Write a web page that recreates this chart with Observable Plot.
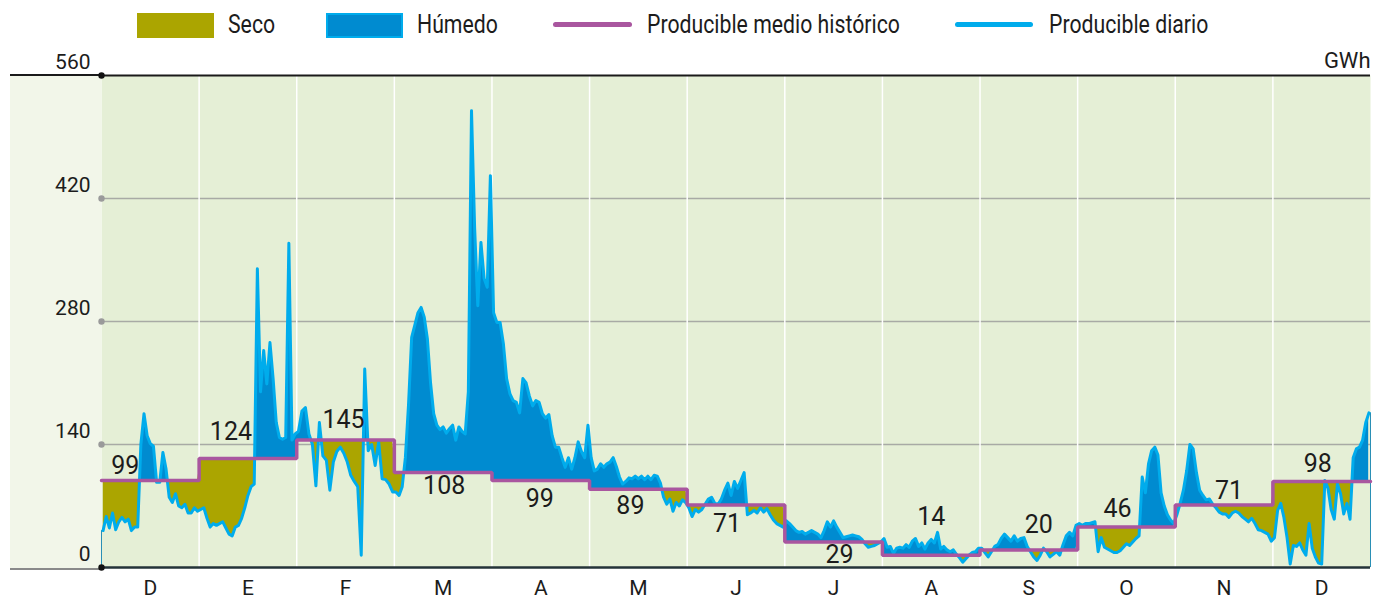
<!DOCTYPE html>
<html>
<head>
<meta charset="utf-8">
<script src="https://cdn.jsdelivr.net/npm/d3@7"></script>
<script src="https://cdn.jsdelivr.net/npm/@observablehq/plot@0.6"></script>
<style>
  body { margin: 0; background: #ffffff; }
  #wrap { position: relative; width: 1373px; height: 599px; overflow: hidden;
          font-family: Roboto, "Liberation Sans", sans-serif; color: #1c1c1c; }
  #leftpanel { position: absolute; left: 10px; top: 74px; width: 91px; height: 492px;
               background: #f2f6e9; border-top: 2px solid #1a1a1a; border-bottom: 2px solid #8a8a8a; }
  .lg { position: absolute; }
  .lgtext { position: absolute; top: 10px; font-size: 25px; line-height: 30px; white-space: nowrap;
            transform: scaleX(0.85); transform-origin: left center; }
  #chart { position: absolute; left: 0; top: 46px; }
</style>
</head>
<body>
<div id="wrap">
  <div id="leftpanel"></div>
  <div class="lg" style="left:137px; top:13px; width:77px; height:25px; background:#aba500;"></div>
  <div class="lgtext" style="left:228px;">Seco</div>
  <div class="lg" style="left:326px; top:13px; width:77px; height:25px; background:#008bd0; border:2px solid #00acec; box-sizing:border-box;"></div>
  <div class="lgtext" style="left:417px;">Húmedo</div>
  <div class="lg" style="left:553px; top:22px; width:79px; height:5px; border-radius:3px; background:#a9569f;"></div>
  <div class="lgtext" style="left:647px;">Producible medio histórico</div>
  <div class="lg" style="left:955px; top:22px; width:78px; height:5px; border-radius:3px; background:#00acec;"></div>
  <div class="lgtext" style="left:1049px;">Producible diario</div>
  <div id="chart"></div>
</div>
<script>
// ---- Data ----
const months = ["D","E","F","M","A","M","J","J","A","S","O","N","D"];
const historic = [99, 124, 145, 108, 99, 89, 71, 29, 14, 20, 46, 71, 98];
const yTicks = [0, 140, 280, 420, 560];

// Producible diario (GWh), one value per day, by month
const dic0 = [42, 58, 45, 62, 43, 52, 57, 52, 55, 42, 46, 46, 140, 175, 150, 141, 138, 97, 97, 131, 112, 80, 74, 84, 70, 68, 72, 62, 62, 68, 64];
const ene  = [66, 68, 56, 46, 50, 48, 50, 52, 45, 38, 36, 46, 48, 56, 68, 82, 92, 95, 340, 200, 247, 209, 256, 215, 165, 148, 146, 148, 369, 145, 152];
const feb  = [155, 178, 182, 152, 140, 93, 165, 127, 122, 88, 120, 132, 137, 130, 120, 105, 98, 92, 14, 226, 133, 140, 116, 143, 101, 100, 95, 86];
const mar  = [86, 82, 92, 125, 185, 262, 276, 290, 296, 285, 260, 210, 175, 162, 157, 160, 153, 158, 162, 145, 160, 155, 152, 200, 520, 386, 298, 370, 329, 319, 446];
const abr  = [290, 279, 279, 255, 215, 198, 190, 188, 176, 215, 210, 195, 184, 190, 188, 175, 170, 174, 150, 137, 137, 125, 114, 125, 112, 125, 143, 132, 125, 162];
const may  = [125, 110, 112, 118, 114, 118, 120, 125, 115, 103, 95, 98, 102, 101, 104, 101, 104, 100, 104, 100, 105, 104, 96, 80, 72, 78, 64, 74, 70, 77, 74];
const jun  = [68, 58, 66, 63, 66, 72, 78, 80, 73, 72, 78, 88, 96, 82, 98, 90, 99, 108, 60, 62, 65, 62, 68, 63, 67, 60, 54, 50, 48, 46];
const jul  = [53, 50, 46, 42, 40, 41, 38, 40, 42, 40, 38, 34, 42, 52, 46, 53, 46, 40, 34, 35, 36, 37, 36, 35, 32, 27, 23, 24, 25, 27, 29];
const ago  = [33, 23, 24, 16, 22, 23, 22, 26, 23, 30, 33, 24, 28, 21, 28, 32, 28, 40, 21, 24, 20, 18, 20, 15, 11, 6, 10, 14, 17, 18, 22];
const sep  = [22, 17, 12, 18, 24, 26, 33, 38, 34, 30, 36, 30, 33, 34, 24, 18, 12, 8, 14, 22, 18, 12, 15, 18, 14, 26, 36, 40, 36, 48];
const oct  = [50, 48, 50, 50, 51, 52, 18, 34, 23, 21, 19, 17, 17, 19, 23, 27, 25, 29, 33, 36, 103, 85, 118, 133, 137, 128, 85, 70, 60, 54, 50];
const nov  = [60, 73, 88, 110, 140, 135, 108, 88, 82, 77, 78, 72, 68, 63, 61, 61, 57, 62, 64, 62, 58, 55, 52, 56, 50, 43, 42, 40, 38, 30];
const dic1 = [34, 65, 73, 57, 34, 4, 25, 24, 28, 20, 14, 50, 22, 12, 5, 4, 99, 90, 66, 55, 95, 84, 61, 73, 55, 125, 135, 137, 145, 165, 176];

// ---- Layout (label offsets in px: [dx, dy]) ----
const labelOffsets = [[-25,-15],[-17,-27],[-2,-20],[1,13],[-1,18],[-8,17],[-9,19],[6,13],[0,-38],[10,-25],[-9,-18],[5,-14],[-4,-17]];

const dailyByMonth = [dic0, ene, feb, mar, abr, may, jun, jul, ago, sep, oct, nov, dic1];
const rows = dailyByMonth.flatMap((arr, m) =>
  arr.map((v, d) => ({ x: m + (d + 0.5) / arr.length, daily: v, hist: historic[m] })));
const histSteps = historic.flatMap((h, i) => [{ x: i, y: h }, { x: i + 1, y: h }]);

const BLUE = "#008bd0", OLIVE = "#aba500", CYAN = "#00acec", PURPLE = "#a9569f";

let fillMarks;
if (typeof Plot.differenceY === "function") {
  fillMarks = [Plot.differenceY(rows, {
    x: "x", y1: "hist", y2: "daily",
    positiveFill: BLUE, negativeFill: OLIVE, fillOpacity: 1, stroke: "none"
  })];
} else {
  fillMarks = [
    Plot.areaY(rows, { x: "x", y1: "hist", y2: d => Math.max(d.daily, d.hist), fill: BLUE }),
    Plot.areaY(rows, { x: "x", y1: d => Math.min(d.daily, d.hist), y2: "hist", fill: OLIVE })
  ];
}

const FONT = 'Roboto, "Liberation Sans", sans-serif';

const chart = Plot.plot({
  width: 1373,
  height: 553,
  marginLeft: 101,
  marginRight: 3,
  marginTop: 29,
  marginBottom: 32,
  style: { background: "transparent", fontFamily: FONT, color: "#1c1c1c", overflow: "visible" },
  x: { domain: [0, 13], axis: null },
  y: { domain: [0, 560], axis: null },
  marks: [
    Plot.frame({ fill: "#e5efd6", stroke: "none" }),
    Plot.ruleY([140, 280, 420], { stroke: "#a8aaa5", strokeWidth: 1.5 }),
    Plot.ruleX(d3.range(1, 13), { stroke: "#ffffff", strokeWidth: 1.5 }),
    ...fillMarks,
    Plot.ruleX([0], { y1: 0, y2: dic0[0], stroke: "#2a8fb5", strokeWidth: 1 }),
    Plot.ruleX([13], { y1: 0, y2: dic1[dic1.length - 1], stroke: "#2a8fb5", strokeWidth: 1 }),
    Plot.line(rows, { x: "x", y: "daily", stroke: CYAN, strokeWidth: 3, strokeLinejoin: "round" }),
    Plot.line(histSteps, { x: "x", y: "y", stroke: PURPLE, strokeWidth: 3.5, strokeLinejoin: "miter" }),
    Plot.ruleY([560], { stroke: "#1a1a1a", strokeWidth: 2 }),
    Plot.ruleY([0], { stroke: "#243339", strokeWidth: 2.5 }),
    Plot.dot([140, 280, 420], { x: 0, y: d => d, r: 3.2, fill: "#9a9a9a", stroke: "none" }),
    Plot.dot([0, 560], { x: 0, y: d => d, r: 3.2, fill: "#111111", stroke: "none" }),
    Plot.text(yTicks, { x: 0, y: d => d, text: d => String(d), dx: -11, dy: -13, textAnchor: "end", fontSize: 21, fill: "#1c1c1c" }),
    Plot.text(months, { x: (d, i) => i + 0.5, y: 0, text: d => d, dy: 21, fontSize: 21, fill: "#1c1c1c" }),
    Plot.text(["GWh"], { frameAnchor: "top-right", lineAnchor: "middle", text: d => d, dy: -15, textAnchor: "end", fontSize: 22, fill: "#1c1c1c" }),
    ...historic.map((h, i) => Plot.text([h], {
      x: i + 0.5, y: h, text: d => String(d), ariaLabel: "value-label",
      dx: labelOffsets[i][0], dy: labelOffsets[i][1], fontSize: 25, fill: "#1c1c1c"
    }))
  ]
});
document.getElementById("chart").appendChild(chart);

// condense the value-label glyphs horizontally to mimic the narrow typeface of the original
chart.querySelectorAll('text[aria-label="value-label"], g[aria-label="value-label"] text').forEach(t => {
  const L = t.getComputedTextLength();
  if (L > 0) {
    t.setAttribute("textLength", (L * 0.86).toFixed(1));
    t.setAttribute("lengthAdjust", "spacingAndGlyphs");
  }
});
</script>
</body>
</html>
